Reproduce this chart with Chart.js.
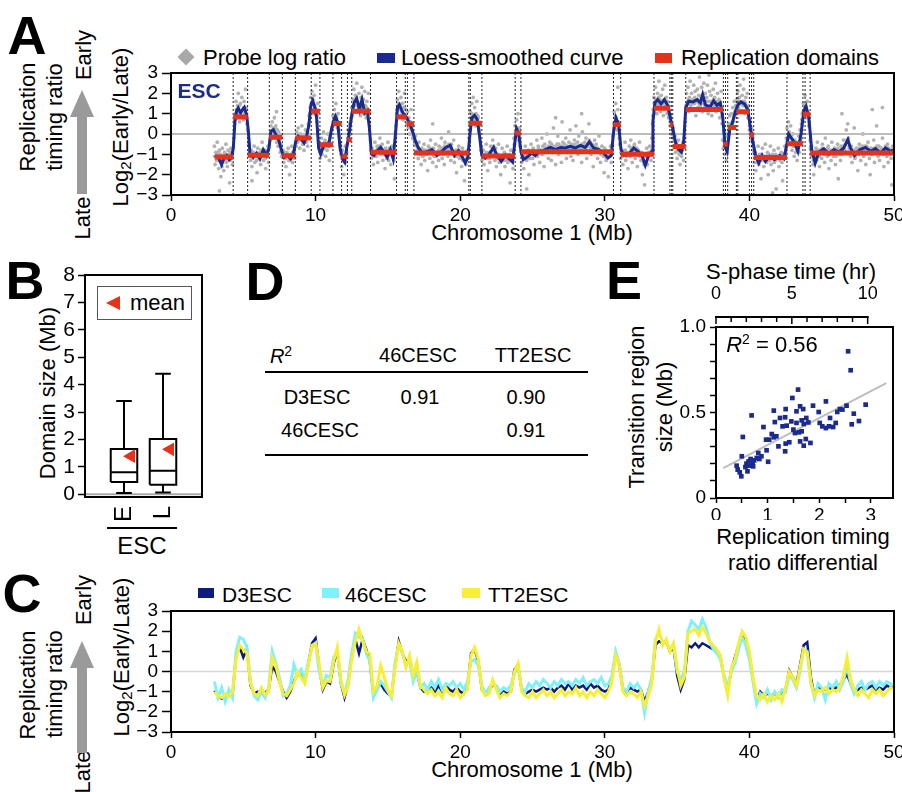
<!DOCTYPE html>
<html><head><meta charset="utf-8">
<script src="https://cdn.jsdelivr.net/npm/chart.js@4.4.1/dist/chart.umd.min.js"></script>
<style>
html,body{margin:0;padding:0;background:#fff;}
body{width:902px;height:792px;overflow:hidden;position:relative;font-family:"Liberation Sans",Arial,sans-serif;color:#000;}
canvas{position:absolute;}
.t{position:absolute;white-space:nowrap;line-height:1;transform:translate(-50%,-50%);}
.l{position:absolute;white-space:nowrap;line-height:1;transform:translateY(-50%);}
.r{position:absolute;white-space:nowrap;line-height:1;transform:translate(-50%,-50%) rotate(-90deg);}
.big{font-weight:bold;font-size:54px;}
.f22{font-size:22px;}
.f21{font-size:21px;}
.f20{font-size:20px;}
.hr{position:absolute;background:#000;}
</style>
</head><body>
<!-- Panel letters -->
<div class="t big" style="left:27px;top:35px">A</div>
<div class="t big" style="left:25px;top:280px">B</div>
<div class="t big" style="left:22px;top:593px">C</div>
<div class="t big" style="left:265px;top:281px">D</div>
<div class="t big" style="left:624px;top:280px">E</div>

<!-- Panel A annotations -->
<div class="r f22" style="left:28px;top:117px">Replication</div>
<div class="r f22" style="left:55px;top:117px">timing ratio</div>
<div class="r f22" style="left:84px;top:55px">Early</div>
<div class="r f22" style="left:83px;top:218px">Late</div>
<div style="position:absolute;left:70px;top:90px;width:0;height:0;border-left:12.5px solid transparent;border-right:12.5px solid transparent;border-bottom:27px solid #9a9a9a"></div>
<div style="position:absolute;left:77px;top:116px;width:10px;height:78px;background:#9a9a9a"></div>
<div class="r f22" style="left:121px;top:127px">Log<sub style="font-size:15px;vertical-align:-3px">2</sub>(Early/Late)</div>
<div class="t f22" style="left:532px;top:233px">Chromosome 1 (Mb)</div>
<div class="t" style="left:199px;top:90px;font-size:21px;font-weight:bold;color:#1b2a8f;z-index:3">ESC</div>
<!-- Panel A legend -->
<div style="position:absolute;left:180px;top:51px;width:12px;height:12px;background:#a8a8a8;transform:rotate(45deg)"></div>
<div class="l f22" style="left:203px;top:58px">Probe log ratio</div>
<div style="position:absolute;left:377px;top:53px;width:18px;height:10px;background:#1b2a8f"></div>
<div class="l f22" style="left:401px;top:58px">Loess-smoothed curve</div>
<div style="position:absolute;left:655px;top:53px;width:17px;height:10px;background:#e5321b"></div>
<div class="l f22" style="left:681px;top:58px">Replication domains</div>

<!-- Panel B annotations -->
<div class="r f22" style="left:48px;top:393px">Domain size (Mb)</div>
<div style="position:absolute;left:97px;top:286px;width:95px;height:34px;border:1px solid #555;box-sizing:border-box;background:#fff;z-index:2"></div>
<div style="position:absolute;left:106px;top:296px;width:0;height:0;border-top:7px solid transparent;border-bottom:7px solid transparent;border-right:14px solid #e5321b;z-index:3"></div>
<div class="l f22" style="left:130px;top:303px;z-index:3">mean</div>
<div class="hr" style="left:107px;top:527px;width:70px;height:2px"></div>
<div class="t" style="left:142px;top:546px;font-size:24px">ESC</div>

<!-- Panel D table -->
<div class="t f20" style="left:281px;top:355px"><i>R</i><sup style="font-size:14px;vertical-align:7px">2</sup></div>
<div class="t f20" style="left:418px;top:355px">46CESC</div>
<div class="t f20" style="left:533px;top:355px">TT2ESC</div>
<div class="hr" style="left:265px;top:371px;width:323px;height:2px"></div>
<div class="t f20" style="left:317px;top:397px">D3ESC</div>
<div class="t f20" style="left:420px;top:397px">0.91</div>
<div class="t f20" style="left:526px;top:397px">0.90</div>
<div class="t f20" style="left:320px;top:430px">46CESC</div>
<div class="t f20" style="left:526px;top:430px">0.91</div>
<div class="hr" style="left:265px;top:454px;width:323px;height:2px"></div>

<!-- Panel E annotations -->
<div class="t f22" style="left:791px;top:272px">S-phase time (hr)</div>
<div class="t f22" style="left:772px;top:344px;z-index:3"><i>R</i><sup style="font-size:14px;vertical-align:8px">2</sup> = 0.56</div>
<div class="r f22" style="left:637px;top:407px">Transition region</div>
<div class="r f22" style="left:665px;top:407px">size (Mb)</div>
<div class="t f22" style="left:803px;top:537px">Replication timing</div>
<div class="t f22" style="left:803px;top:563px">ratio differential</div>

<!-- Panel C annotations -->
<div class="r f22" style="left:28px;top:685px">Replication</div>
<div class="r f22" style="left:55px;top:684px">timing ratio</div>
<div class="r f22" style="left:84px;top:600px">Early</div>
<div class="r f22" style="left:83px;top:772px">Late</div>
<div style="position:absolute;left:70px;top:641px;width:0;height:0;border-left:12.5px solid transparent;border-right:12.5px solid transparent;border-bottom:27px solid #9a9a9a"></div>
<div style="position:absolute;left:77px;top:667px;width:10px;height:86px;background:#9a9a9a"></div>
<div class="r f22" style="left:122px;top:657px">Log<sub style="font-size:15px;vertical-align:-3px">2</sub>(Early/Late)</div>
<div class="t f22" style="left:532px;top:770px">Chromosome 1 (Mb)</div>
<div style="position:absolute;left:198px;top:588px;width:16px;height:10px;background:#0d1a80"></div>
<div class="l f21" style="left:222px;top:594px">D3ESC</div>
<div style="position:absolute;left:322px;top:588px;width:17px;height:10px;background:#80f0ff"></div>
<div class="l f21" style="left:345px;top:594px">46CESC</div>
<div style="position:absolute;left:462px;top:588px;width:18px;height:10px;background:#f8ef33"></div>
<div class="l f21" style="left:488px;top:594px">TT2ESC</div>

<canvas id="cA" width="802" height="190" style="left:100px;top:60px"></canvas>
<canvas id="cB" width="190" height="262" style="left:20px;top:262px"></canvas>
<canvas id="cE" width="226" height="240" style="left:676px;top:280px"></canvas>
<canvas id="cC" width="802" height="194" style="left:100px;top:598px"></canvas>

<script>
// ================= DATA =================
// Panel A: replication domains (start Mb, end Mb, log2 ratio)
const domStart = [3.05,4.3,5.3,6.8,7.7,8.6,9.7,10.3,11.2,11.8,12.2,12.5,13.8,15.6,16.3,16.8,20.6,21.5,23.8,24.2,30.6,31.1,33.4,34.5,34.7,35.6,38.2,38.5,39.1,40.0,40.3,42.6,43.7,44.2];
const domEnd   = [4.3,5.3,6.8,7.7,8.6,9.7,10.3,11.2,11.8,12.2,12.5,13.8,15.6,16.3,16.8,20.6,21.5,23.8,24.2,30.6,31.1,33.4,34.5,34.7,35.6,38.2,38.5,39.1,40.0,40.3,42.6,43.7,44.2,50.0];
const domLevel = [-1.13,0.84,-1.05,-0.16,-1.07,-0.2,1.12,-0.53,0.52,-1.1,-0.28,1.12,-0.9,0.84,0.51,-0.94,0.53,-1.08,0.05,-0.87,0.45,-1.0,1.27,0.45,-0.62,1.2,-0.5,0.32,1.1,-0.05,-1.15,-0.48,0.97,-0.93];
// Panel A: domain boundaries (dotted lines, Mb)
const boundaries = [4.3,5.3,6.8,7.7,8.6,9.7,10.3,11.2,11.8,12.2,12.5,13.8,15.6,16.2,16.35,16.8,20.6,20.7,21.5,23.8,24.2,30.6,31.1,33.4,34.5,34.6,34.7,35.6,38.2,38.35,38.5,39.1,39.2,40.0,40.15,40.3,42.6,43.7,43.85,44.2];
// Panel A: loess-smoothed curve [Mb, log2 ratio]
const loess = [[3.04,-1.05],[3.27,-1.15],[3.5,-1.51],[3.66,-1.18],[3.85,-1.05],[4.03,-1.26],[4.19,-1.15],[4.31,-0.69],[4.42,0.62],[4.54,1.15],[4.65,1.28],[4.81,1.03],[4.95,1.2],[5.07,1.31],[5.23,0.95],[5.35,0.13],[5.46,-0.94],[5.69,-1.15],[5.92,-0.94],[6.15,-1.22],[6.38,-0.77],[6.61,-1.05],[6.78,-0.69],[6.91,0.13],[7.08,0.21],[7.26,-0.03],[7.44,-0.28],[7.63,-0.77],[7.81,-1.15],[8.04,-1.05],[8.27,-1.22],[8.46,-0.99],[8.62,-0.39],[8.8,-0.11],[8.99,-0.23],[9.2,-0.44],[9.38,-0.11],[9.54,0.46],[9.68,1.44],[9.8,1.64],[9.96,1.28],[10.07,0.79],[10.21,-0.69],[10.35,-0.99],[10.54,-0.61],[10.72,-0.49],[10.9,-0.56],[11.07,0.13],[11.23,0.62],[11.37,0.87],[11.53,0.59],[11.69,-0.69],[11.87,-1.22],[12.01,-1.38],[12.15,-0.69],[12.31,-0.03],[12.5,0.95],[12.66,1.53],[12.84,1.74],[13.03,1.2],[13.21,1.69],[13.4,1.03],[13.58,1.15],[13.72,0.3],[13.86,-0.99],[14.04,-1.05],[14.27,-0.82],[14.5,-0.66],[14.73,-0.89],[14.96,-1.15],[15.17,-0.77],[15.36,-1.22],[15.52,-0.03],[15.66,1.28],[15.8,1.44],[15.96,1.15],[16.12,0.95],[16.3,0.79],[16.49,0.54],[16.67,0.21],[16.88,-0.28],[17.11,-0.69],[17.41,-0.94],[17.8,-0.85],[18.04,-0.77],[18.39,-1.05],[18.73,-0.85],[19.01,-0.66],[19.31,-0.56],[19.61,-1.05],[19.89,-0.82],[20.16,-1.15],[20.35,-1.43],[20.53,-1.15],[20.67,-0.03],[20.81,0.79],[20.99,0.92],[21.18,0.71],[21.34,-0.11],[21.5,-1.05],[21.73,-1.18],[22.01,-0.99],[22.31,-0.66],[22.54,-1.05],[22.84,-1.35],[23.12,-1.05],[23.39,-1.22],[23.62,-1.38],[23.76,-0.53],[23.9,0.26],[24.04,0.05],[24.2,-0.85],[24.36,-1.26],[24.62,-1.15],[24.92,-0.94],[25.19,-1.05],[25.54,-0.85],[25.88,-0.77],[26.23,-0.66],[26.58,-0.77],[26.92,-0.66],[27.27,-0.69],[27.61,-0.61],[27.96,-0.69],[28.31,-0.56],[28.65,-0.66],[28.93,-0.39],[29.23,-0.69],[29.58,-0.77],[29.92,-0.94],[30.22,-1.18],[30.45,-1.05],[30.61,0.13],[30.77,0.79],[30.96,0.46],[31.12,-0.77],[31.33,-1.05],[31.65,-0.99],[32.0,-0.69],[32.3,-0.85],[32.57,-1.05],[32.8,-1.54],[33.04,-1.05],[33.27,-0.85],[33.33,0.62],[33.47,1.53],[33.66,1.69],[33.89,1.48],[34.12,1.69],[34.35,1.41],[34.53,0.79],[34.72,0.21],[34.9,-0.44],[35.11,-0.77],[35.3,-0.89],[35.46,-0.36],[35.6,1.28],[35.8,1.61],[36.1,1.58],[36.38,1.69],[36.61,1.53],[36.77,1.94],[36.96,1.44],[37.26,1.31],[37.53,1.64],[37.76,1.41],[37.99,1.53],[38.16,0.79],[38.32,-0.61],[38.46,-0.85],[38.64,0.21],[38.82,0.54],[39.03,1.12],[39.22,1.44],[39.42,1.58],[39.66,1.48],[39.89,1.2],[40.07,0.3],[40.26,-0.44],[40.44,-1.1],[40.65,-1.43],[40.88,-1.05],[41.11,-1.35],[41.41,-1.1],[41.73,-1.26],[42.1,-1.05],[42.38,-1.22],[42.56,-0.61],[42.72,0.0],[42.91,-0.2],[43.12,-0.44],[43.35,-0.85],[43.58,0.05],[43.76,1.12],[43.92,1.36],[44.11,0.79],[44.31,-0.77],[44.55,-1.43],[44.8,-0.89],[45.15,-0.72],[45.49,-0.99],[45.84,-0.77],[46.18,-0.89],[46.53,-0.69],[46.81,-0.28],[46.99,-0.69],[47.27,-1.05],[47.64,-0.77],[48.03,-0.66],[48.38,-0.85],[48.72,-0.72],[49.07,-0.94],[49.41,-0.69],[49.76,-0.85],[50.0,-0.77]];
// Panel A: probe log ratios, outer scatter [Mb, log2 ratio]
const probes = [[3.0,-0.6],[3.05,-1.5],[3.1,-0.9],[3.15,-1.3],[3.2,-0.4],[3.25,-1.0],[3.3,-1.7],[3.35,-0.8],[3.35,-2.8],[3.4,-1.2],[3.45,-2.1],[3.5,-1.4],[3.55,-0.7],[3.6,-1.1],[3.65,-1.8],[3.7,-0.9],[3.75,-1.3],[3.8,-0.5],[3.85,-1.2],[3.9,-1.6],[3.95,-0.8],[4.0,-1.0],[4.05,-2.4],[4.1,-1.3],[4.15,-0.7],[4.2,-1.1],[4.25,-1.5],
[4.35,-0.2],[4.4,0.5],[4.45,1.0],[4.5,1.6],[4.55,0.8],[4.6,1.4],[4.65,2.0],[4.7,1.1],[4.75,0.6],[4.8,1.5],[4.85,0.9],[4.9,1.8],[4.95,1.2],[5.0,0.7],[5.05,1.6],[5.1,1.0],[5.15,2.2],[5.2,1.3],[5.25,0.5],[5.3,0.2],
[5.4,-0.5],[5.5,-1.3],[5.55,-0.8],[5.6,-1.6],[5.6,-2.3],[5.7,-1.0],[5.75,-0.6],[5.8,-1.4],[5.9,-1.1],[5.95,-1.9],[6.0,-0.7],[6.1,-1.2],[6.15,-0.9],[6.2,-1.5],[6.3,-0.4],[6.35,-1.0],[6.4,-1.3],[6.5,-0.8],[6.55,-1.7],[6.6,-1.1],[6.7,-0.6],[6.75,-1.4],
[6.85,-0.3],[6.9,0.4],[6.95,0.0],[7.0,0.6],[7.05,-0.2],[7.1,0.3],[7.15,0.8],[7.2,-0.1],[7.25,0.4],[7.3,-0.4],[7.3,1.1],[7.35,0.2],[7.4,-0.6],[7.45,0.1],[7.5,-0.3],[7.55,-0.9],[7.6,-0.5],[7.65,-1.1],
[7.75,-0.8],[7.8,-1.4],[7.9,-0.9],[7.95,-1.6],[8.0,-1.1],[8.1,-0.7],[8.15,-1.3],[8.2,-2.0],[8.3,-1.0],[8.35,-0.6],[8.4,-1.4],[8.5,-0.9],[8.55,-1.2],
[8.65,-0.6],[8.7,0.1],[8.75,-0.4],[8.8,0.3],[8.85,-0.2],[8.9,-0.7],[8.95,0.0],[9.0,-0.3],[9.05,0.4],[9.1,-0.5],[9.15,-0.1],[9.2,-0.8],[9.25,-0.2],[9.3,0.2],[9.35,-0.4],[9.4,0.1],[9.45,-0.6],[9.5,0.5],[9.55,0.9],
[9.6,1.0],[9.65,1.8],[9.7,1.2],[9.75,2.1],[9.8,1.5],[9.85,1.0],[9.9,1.9],[9.95,1.3],[10.0,2.4],[10.05,1.1],[10.1,0.6],[10.15,1.5],[10.2,0.2],
[10.25,-0.6],[10.3,-1.2],[10.35,-0.8],[10.4,-0.2],[10.45,-1.0],[10.5,-0.5],[10.55,0.1],[10.6,-0.7],[10.65,-0.3],[10.7,-1.1],[10.75,-0.4],[10.8,-0.8],[10.85,0.0],[10.9,-0.6],[10.95,-1.3],[11.0,-0.2],[11.05,-0.5],
[11.15,0.2],[11.2,0.9],[11.25,0.4],[11.3,1.2],[11.35,0.6],[11.4,1.5],[11.45,0.8],[11.5,0.3],[11.55,1.0],[11.6,0.5],[11.65,-0.1],
[11.7,-0.5],[11.75,-1.0],[11.8,-1.6],[11.85,-0.8],[11.9,-1.3],[11.95,-2.0],[12.0,-1.1],[12.05,-0.6],[12.1,-1.4],[12.15,-0.9],
[12.2,-0.5],[12.25,0.2],[12.3,-0.3],[12.35,0.5],[12.4,0.0],[12.45,0.8],
[12.5,1.3],[12.55,0.9],[12.6,1.7],[12.65,2.2],[12.7,1.4],[12.75,1.9],[12.8,1.1],[12.85,2.5],[12.9,1.6],[12.95,1.2],[13.0,2.0],[13.05,1.5],[13.1,0.9],[13.15,1.8],[13.2,2.3],[13.25,1.3],[13.3,1.7],[13.35,1.0],[13.4,2.1],[13.45,1.4],[13.5,0.8],[13.55,1.6],[13.6,1.2],[13.65,2.0],[13.7,0.6],
[13.8,-0.3],[13.85,-1.2],[13.9,-0.7],[14.0,-1.5],[14.05,-0.9],[14.1,-0.4],[14.2,-1.1],[14.25,-0.6],[14.3,-1.4],[14.4,-0.8],[14.45,-0.2],[14.5,-1.0],[14.6,-0.5],[14.65,-1.3],[14.7,-0.9],[14.8,-1.7],[14.85,-0.7],[14.9,-1.1],[15.0,-0.4],[15.05,-1.3],[15.1,-0.8],[15.2,-1.5],[15.25,-1.0],[15.3,-0.6],[15.4,-1.2],[15.45,-2.2],
[15.55,0.4],[15.6,1.0],[15.65,1.7],[15.7,1.2],[15.75,2.1],[15.8,1.4],[15.85,0.9],[15.9,1.8],[15.95,1.1],[16.0,1.5],[16.05,0.7],[16.1,1.3],[16.15,2.0],[16.2,0.9],[16.25,1.2],
[16.3,0.5],[16.35,1.1],[16.4,0.3],[16.45,0.8],[16.5,0.0],[16.55,0.6],[16.6,1.2],[16.65,0.2],[16.7,-0.2],[16.75,0.4],
[16.85,-0.5],[16.9,-0.1],[16.95,-0.9],[17.0,-0.6],[17.1,-1.2],[17.15,-0.4],[17.2,-0.9],[17.3,-1.5],[17.35,-0.7],[17.4,-1.1],[17.5,-0.5],[17.55,-1.3],[17.6,-0.8],[17.7,-1.0],[17.75,-1.8],[17.8,-0.6],[17.9,-1.2],[17.95,-0.3],[18.0,-0.9],[18.1,-1.4],[18.1,0.5],[18.15,-0.7],[18.2,-1.1],[18.3,-0.5],[18.35,-1.6],[18.4,-0.9],[18.5,-1.3],[18.55,-0.6],[18.6,-1.0],[18.7,-0.2],[18.75,-1.2],[18.8,-0.8],[18.9,-1.5],[18.95,-0.4],[19.0,-0.9],[19.1,-0.6],[19.15,-1.1],[19.2,0.1],[19.3,-0.7],[19.35,-1.3],[19.4,-0.5],[19.5,-1.0],[19.55,-0.3],[19.6,-1.4],[19.7,-0.8],[19.75,-1.9],[19.8,-1.1],[19.9,-0.6],[19.95,-1.2],[20.0,-0.9],[20.1,-1.6],[20.15,-0.7],[20.2,-1.3],[20.3,-2.3],[20.35,-1.0],[20.4,-1.5],[20.5,-0.8],[20.55,-1.2],
[20.6,-0.2],[20.65,0.5],[20.7,1.1],[20.75,0.6],[20.8,1.5],[20.85,0.9],[20.9,1.8],[20.95,0.7],[21.0,1.3],[21.05,0.4],[21.1,1.0],[21.15,1.6],[21.2,0.5],[21.25,0.8],[21.3,0.1],[21.35,0.4],
[21.45,-0.6],[21.5,-1.3],[21.6,-0.8],[21.65,-1.5],[21.7,-1.0],[21.8,-0.5],[21.85,-1.2],[21.9,-1.8],[22.0,-0.9],[22.05,-1.4],[22.1,-0.6],[22.2,-1.1],[22.25,-0.3],[22.3,-0.8],[22.4,-1.3],[22.45,-0.7],[22.5,-1.6],[22.6,-1.0],[22.65,-0.5],[22.7,-1.4],[22.8,-2.0],[22.85,-1.1],[22.9,-0.7],[23.0,-1.3],[23.05,-0.9],[23.1,-1.6],[23.2,-1.0],[23.25,-0.6],[23.3,-1.4],[23.4,-1.1],[23.45,-2.4],[23.5,-0.8],[23.6,-1.3],[23.65,-1.7],
[23.75,-0.5],[23.8,0.4],[23.85,-0.1],[23.9,0.7],[23.95,0.2],[24.0,1.0],[24.05,-0.3],[24.1,0.3],[24.15,-0.6],
[24.25,-1.4],[24.3,-0.9],[24.4,-1.7],[24.45,-1.1],[24.5,-0.6],[24.6,-1.3],[24.6,-2.7],[24.7,-0.8],[24.75,-2.0],[24.8,-1.0],[24.9,-0.5],[25.0,-1.2],[25.05,-0.7],[25.1,-1.5],[25.2,-0.9],[25.3,-0.3],[25.35,-1.1],[25.4,-0.6],[25.5,-1.4],[25.6,-0.8],[25.65,-0.2],[25.7,-1.0],[25.8,-1.6],[25.85,-0.5],[25.9,-0.9],[26.0,0.0],[26.1,-1.2],[26.15,-0.7],[26.2,-0.4],[26.3,-1.3],[26.4,-0.6],[26.45,0.3],[26.5,-0.9],[26.6,-1.5],[26.6,0.8],[26.7,-0.5],[26.75,-0.1],[26.8,-1.0],[26.9,-0.7],[27.0,-1.4],[27.05,0.6],[27.1,-0.4],[27.2,-0.9],[27.3,-0.2],[27.35,-1.2],[27.4,-0.6],[27.5,-0.8],[27.6,0.2],[27.65,-1.1],[27.7,-0.5],[27.8,-1.3],[27.9,-0.3],[27.95,-0.8],[28.0,0.4],[28.1,-0.6],[28.15,-1.0],[28.2,-0.1],[28.3,-0.7],[28.4,-1.4],[28.4,1.0],[28.45,0.1],[28.5,-0.5],[28.6,-0.9],[28.7,-0.2],[28.75,-1.2],[28.8,-0.6],[28.9,0.5],[29.0,-0.4],[29.05,-1.0],[29.1,-0.7],[29.2,-1.6],[29.3,-0.3],[29.35,-0.9],[29.4,-0.5],[29.5,-1.2],[29.6,-0.1],[29.65,-0.8],[29.7,-1.4],[29.8,-0.6],[29.9,-1.0],[29.95,-1.9],[30.0,-0.7],[30.1,-1.3],[30.2,-0.9],[30.25,-2.1],[30.3,-1.1],[30.4,-0.6],[30.45,-1.4],[30.5,-0.8],
[30.55,-0.1],[30.6,0.5],[30.65,1.1],[30.7,0.4],[30.75,1.5],[30.8,0.8],[30.85,0.2],[30.9,1.2],[30.9,2.3],[30.95,0.6],[31.0,-0.2],
[31.05,-0.5],[31.1,-1.2],[31.2,-0.8],[31.25,-1.5],[31.3,-1.0],[31.4,-0.4],[31.45,-1.3],[31.5,-0.9],[31.6,-1.7],[31.7,-0.6],[31.75,-1.1],[31.8,-0.3],[31.9,-1.4],[32.0,-0.8],[32.05,-0.5],[32.1,-1.2],[32.2,-0.7],[32.25,-1.6],[32.3,-1.0],[32.4,-0.4],[32.5,-1.3],[32.55,-0.9],[32.6,-2.0],[32.7,-1.4],[32.75,-2.5],[32.8,-1.1],[32.9,-0.7],[32.95,-1.5],[33.0,-1.0],[33.1,-0.6],[33.2,-1.3],[33.25,-0.2],
[33.3,0.5],[33.35,1.2],[33.4,1.8],[33.45,1.3],[33.5,2.3],[33.55,1.6],[33.6,1.0],[33.65,2.0],[33.7,1.4],[33.75,2.6],[33.8,1.7],[33.85,1.1],[33.9,1.9],[33.95,1.5],[34.0,2.2],[34.05,0.9],[34.1,1.6],[34.15,2.4],[34.2,1.3],[34.25,1.8],[34.3,1.0],[34.35,1.6],[34.4,0.8],
[34.45,1.1],[34.5,0.4],[34.55,0.9],[34.6,0.0],[34.65,0.5],
[34.7,-0.2],[34.75,0.3],[34.8,-0.6],[34.85,-0.1],[34.9,-0.9],[34.95,-0.4],[35.0,-1.2],[35.05,-0.7],[35.1,-0.3],[35.15,-1.0],[35.2,-1.5],[35.25,-0.6],[35.3,-1.1],[35.35,-0.8],[35.4,-0.4],[35.45,-1.3],[35.5,-0.2],
[35.55,0.6],[35.6,1.3],[35.65,2.0],[35.7,1.5],[35.75,2.3],[35.8,1.1],[35.85,1.8],[35.9,2.6],[35.95,1.4],[36.0,2.0],[36.05,1.2],[36.1,1.7],[36.15,2.4],[36.2,1.5],[36.25,2.1],[36.3,0.9],[36.35,1.6],[36.4,2.2],[36.45,1.3],[36.5,1.9],[36.55,2.8],[36.6,1.4],[36.65,1.8],[36.7,2.3],[36.75,1.1],[36.8,1.7],[36.85,2.5],[36.9,1.5],[36.95,2.0],[37.0,1.2],[37.05,1.8],[37.1,2.4],[37.15,1.0],[37.2,1.6],[37.2,2.9],[37.25,2.1],[37.3,1.3],[37.35,1.9],[37.4,0.9],[37.45,1.5],[37.5,2.2],[37.55,1.4],[37.6,1.8],[37.65,2.5],[37.7,1.1],[37.75,1.6],[37.8,2.0],[37.85,1.2],[37.9,1.7],[37.95,0.8],[38.0,1.4],[38.05,2.1],
[38.1,0.5],[38.15,-0.3],[38.2,-0.7],[38.25,0.1],[38.3,-1.0],[38.35,-0.4],[38.4,-1.3],[38.45,-0.6],
[38.5,-0.1],[38.55,0.5],[38.6,0.1],[38.65,0.9],[38.7,0.3],[38.75,1.0],[38.8,0.4],[38.85,1.3],[38.9,0.6],[38.95,1.6],[39.0,0.9],[39.05,1.4],
[39.1,1.0],[39.15,1.7],[39.2,2.1],[39.25,1.3],[39.3,1.8],[39.35,2.4],[39.4,1.5],[39.45,1.1],[39.5,1.9],[39.55,1.4],[39.6,2.2],[39.6,2.7],[39.65,1.6],[39.7,1.0],[39.75,1.8],[39.8,1.3],[39.85,2.0],[39.9,0.8],[39.95,1.4],
[40.0,0.2],[40.05,0.7],[40.1,-0.3],[40.15,0.3],[40.2,-0.6],[40.25,0.0],
[40.3,-0.8],[40.35,-1.4],[40.4,-0.9],[40.45,-1.8],[40.5,-1.2],[40.6,-0.6],[40.65,-1.5],[40.7,-1.0],[40.8,-2.2],[40.85,-1.3],[40.9,-0.7],[41.0,-1.6],[41.05,-1.1],[41.1,-0.5],[41.2,-1.4],[41.25,-0.9],[41.3,-2.0],[41.4,-1.2],[41.45,-0.6],[41.5,-1.5],[41.6,-1.0],[41.6,-2.9],[41.65,-1.8],[41.7,-0.8],[41.8,-1.3],[41.85,-2.7],[41.9,-1.1],[42.0,-0.7],[42.05,-1.6],[42.1,-1.2],[42.2,-0.9],[42.25,-1.4],[42.3,-2.3],[42.4,-1.0],[42.45,-0.6],
[42.5,-0.9],[42.55,-0.2],[42.6,0.3],[42.65,-0.4],[42.7,0.6],[42.75,0.1],[42.8,-0.5],[42.85,0.4],[42.9,-0.2],[42.95,-0.8],[43.0,0.0],[43.05,-0.6],[43.1,-1.1],[43.15,-0.3],[43.2,-0.9],[43.25,-0.4],[43.3,-1.3],[43.35,-0.7],[43.4,-0.1],[43.45,-0.9],[43.5,0.2],[43.55,-0.3],
[43.6,0.5],[43.65,1.0],[43.7,0.6],[43.75,1.5],[43.8,1.1],[43.85,1.9],[43.9,1.3],[43.95,0.8],[44.0,1.6],[44.05,1.0],[44.1,0.4],[44.15,0.9],
[44.2,-0.3],[44.25,-1.0],[44.3,-0.6],[44.4,-1.5],[44.45,-2.0],[44.5,-1.1],[44.6,-0.7],[44.65,-1.3],[44.7,-0.4],[44.8,-1.0],[44.85,-1.6],[44.9,-0.8],[45.0,-1.2],[45.05,-0.5],[45.1,-0.9],[45.2,-1.4],[45.25,-0.2],[45.3,-0.8],[45.4,-1.1],[45.45,-0.6],[45.5,-1.7],[45.6,-0.9],[45.65,-1.3],[45.7,-0.4],[45.8,-1.0],[45.9,-0.7],[45.95,-1.5],[46.0,-1.1],[46.1,-0.5],[46.15,-2.2],[46.2,-0.9],[46.3,-1.3],[46.35,-0.6],[46.4,-1.0],[46.4,1.0],[46.5,-0.3],[46.6,-0.8],[46.7,0.2],[46.75,-0.4],[46.8,0.5],[46.85,-0.2],[46.9,-0.7],[47.0,-1.1],[47.05,-0.6],[47.1,-1.4],[47.2,-0.9],[47.25,0.3],[47.3,-1.2],[47.4,-0.7],[47.5,-1.8],[47.55,-1.0],[47.6,-0.5],[47.7,-1.3],[47.8,-0.8],[47.85,0.0],[47.9,-1.1],[48.0,-0.6],[48.05,-1.5],[48.1,-0.9],[48.2,-0.4],[48.3,-1.2],[48.35,-2.0],[48.4,-0.7],[48.5,-1.0],[48.5,1.2],[48.6,-0.3],[48.65,-1.4],[48.7,-0.8],[48.8,0.4],[48.9,-1.1],[48.95,-0.6],[49.0,-1.3],[49.1,-0.9],[49.2,-0.2],[49.2,1.3],[49.25,-1.0],[49.3,-1.6],[49.4,-0.7],[49.5,-1.1],[49.55,-0.5],[49.6,-1.4],[49.7,-0.8],[49.8,-1.2],[49.85,-2.5],[49.9,-0.6],[50.0,-1.0]];
// Panel A: probe log ratios, dense core near the curve [Mb, log2 ratio]
const probesCore = [[3.02,-1.1],[3.12,-1.2],[3.22,-0.9],[3.32,-1.3],[3.42,-1.0],[3.52,-1.6],[3.62,-1.2],[3.72,-1.0],[3.82,-1.4],[3.92,-1.1],[4.02,-1.3],[4.12,-0.9],[4.22,-1.2],
[4.42,0.7],[4.52,1.2],[4.62,1.0],[4.72,1.4],[4.82,1.1],[4.92,0.9],[5.02,1.3],[5.12,1.1],[5.22,0.8],
[5.42,-0.9],[5.52,-1.1],[5.62,-1.2],[5.72,-0.9],[5.82,-1.0],[5.92,-1.3],[6.02,-1.0],[6.12,-1.2],[6.22,-0.8],[6.32,-1.1],[6.42,-0.9],[6.52,-1.2],[6.62,-1.0],[6.72,-0.8],
[6.92,0.1],[7.02,0.2],[7.12,0.0],[7.22,0.3],[7.32,-0.2],[7.42,-0.3],[7.52,-0.6],[7.62,-0.8],
[7.72,-1.1],[7.82,-1.0],[7.92,-1.2],[8.02,-0.9],[8.12,-1.1],[8.22,-1.3],[8.32,-1.2],[8.42,-0.9],[8.52,-1.0],
[8.62,-0.3],[8.72,-0.2],[8.82,-0.1],[8.92,-0.3],[9.02,-0.1],[9.12,-0.3],[9.22,-0.4],[9.32,-0.1],[9.42,0.0],[9.52,0.4],
[9.62,1.3],[9.72,1.5],[9.82,1.7],[9.92,1.4],[10.02,1.2],[10.12,0.9],
[10.22,-0.4],[10.32,-0.9],[10.42,-0.7],[10.52,-0.6],[10.62,-0.4],[10.72,-0.5],[10.82,-0.6],[10.92,-0.5],[11.02,-0.1],
[11.12,0.3],[11.22,0.6],[11.32,0.8],[11.42,0.9],[11.52,0.6],[11.62,0.2],
[11.72,-0.8],[11.82,-1.2],[11.92,-1.1],[12.02,-1.4],[12.12,-1.0],
[12.22,-0.2],[12.32,0.1],[12.42,0.6],
[12.52,1.0],[12.62,1.4],[12.72,1.6],[12.82,1.8],[12.92,1.4],[13.02,1.3],[13.12,1.5],[13.22,1.7],[13.32,1.2],[13.42,1.0],[13.52,1.3],[13.62,1.1],[13.72,1.0],
[13.82,-0.8],[13.92,-1.0],[14.02,-1.1],[14.12,-0.9],[14.22,-0.8],[14.32,-0.7],[14.42,-0.6],[14.52,-0.7],[14.62,-0.9],[14.72,-1.0],[14.82,-0.9],[14.92,-1.2],[15.02,-1.0],[15.12,-0.7],[15.22,-0.9],[15.32,-1.1],[15.42,-1.3],
[15.52,0.1],[15.62,1.2],[15.72,1.5],[15.82,1.3],[15.92,1.2],[16.02,1.0],[16.12,0.9],[16.22,0.8],
[16.32,0.8],[16.42,0.6],[16.52,0.4],[16.62,0.3],[16.72,0.0],
[16.82,-0.3],[16.92,-0.5],[17.02,-0.8],[17.12,-0.7],[17.22,-1.0],[17.32,-0.9],[17.42,-1.1],[17.52,-0.8],[17.62,-1.0],[17.72,-0.9],[17.82,-0.8],[17.92,-0.7],[18.02,-0.8],[18.12,-1.0],[18.22,-0.9],[18.32,-1.1],[18.42,-1.0],[18.52,-0.8],[18.62,-0.9],[18.72,-0.7],[18.82,-1.0],[18.92,-0.6],[19.02,-0.7],[19.12,-0.8],[19.22,-0.5],[19.32,-0.6],[19.42,-0.8],[19.52,-0.9],[19.62,-1.1],[19.72,-0.9],[19.82,-0.8],[19.92,-1.0],[20.02,-1.1],[20.12,-1.2],[20.22,-1.0],[20.32,-1.3],[20.42,-1.2],[20.52,-1.0],
[20.62,0.2],[20.72,0.8],[20.82,1.0],[20.92,0.9],[21.02,0.8],[21.12,0.7],[21.22,0.9],[21.32,0.2],
[21.42,-0.8],[21.52,-1.0],[21.62,-1.2],[21.72,-1.1],[21.82,-0.9],[21.92,-1.0],[22.02,-1.2],[22.12,-0.9],[22.22,-0.7],[22.32,-0.6],[22.42,-0.9],[22.52,-1.1],[22.62,-1.2],[22.72,-1.1],[22.82,-1.3],[22.92,-1.2],[23.02,-1.0],[23.12,-1.1],[23.22,-1.3],[23.32,-1.2],[23.42,-1.0],[23.52,-1.2],[23.62,-1.1],
[23.72,-0.2],[23.82,0.1],[23.92,0.3],[24.02,0.0],[24.12,-0.3],
[24.22,-0.9],[24.32,-1.1],[24.42,-1.2],[24.52,-1.0],[24.62,-0.9],[24.72,-1.1],[24.82,-1.2],[24.92,-0.9],[25.02,-0.8],[25.12,-1.0],[25.22,-1.1],[25.32,-0.9],[25.42,-0.7],[25.52,-0.9],[25.62,-1.0],[25.72,-0.6],[25.82,-0.8],[25.92,-0.7],[26.02,-0.9],[26.12,-0.6],[26.22,-0.8],[26.32,-0.5],[26.42,-0.9],[26.52,-0.7],[26.62,-0.6],[26.72,-0.8],[26.82,-0.5],[26.92,-0.9],[27.02,-0.6],[27.12,-0.8],[27.22,-0.5],[27.32,-0.7],[27.42,-0.9],[27.52,-0.4],[27.62,-0.7],[27.72,-0.8],[27.82,-0.6],[27.92,-0.5],[28.02,-0.8],[28.12,-0.4],[28.22,-0.6],[28.32,-0.9],[28.42,-0.5],[28.52,-0.7],[28.62,-0.4],[28.72,-0.8],[28.82,-0.6],[28.92,-0.3],[29.02,-0.7],[29.12,-0.5],[29.22,-0.8],[29.32,-0.6],[29.42,-0.9],[29.52,-0.7],[29.62,-0.8],[29.72,-1.0],[29.82,-0.9],[29.92,-1.1],[30.02,-1.0],[30.12,-1.2],[30.22,-1.1],[30.32,-0.9],[30.42,-1.0],[30.52,-0.5],
[30.62,0.3],[30.72,0.9],[30.82,0.6],[30.92,0.5],[31.02,-0.5],
[31.12,-0.9],[31.22,-1.1],[31.32,-1.0],[31.42,-0.8],[31.52,-1.1],[31.62,-1.0],[31.72,-0.9],[31.82,-0.7],[31.92,-0.8],[32.02,-0.6],[32.12,-0.9],[32.22,-1.0],[32.32,-0.8],[32.42,-1.1],[32.52,-1.0],[32.62,-1.3],[32.72,-1.5],[32.82,-1.4],[32.92,-1.1],[33.02,-0.9],[33.12,-1.0],[33.22,-0.8],
[33.32,0.9],[33.42,1.5],[33.52,1.7],[33.62,1.5],[33.72,1.8],[33.82,1.4],[33.92,1.6],[34.02,1.5],[34.12,1.7],[34.22,1.4],[34.32,1.3],[34.42,1.1],
[34.52,0.6],[34.62,0.4],[34.72,0.1],[34.82,-0.3],[34.92,-0.6],[35.02,-0.8],[35.12,-0.6],[35.22,-0.9],[35.32,-0.7],[35.42,-0.5],[35.52,0.2],
[35.62,1.4],[35.72,1.6],[35.82,1.7],[35.92,1.5],[36.02,1.6],[36.12,1.5],[36.22,1.8],[36.32,1.6],[36.42,1.7],[36.52,1.5],[36.62,1.6],[36.72,1.9],[36.82,1.5],[36.92,1.4],[37.02,1.6],[37.12,1.3],[37.22,1.4],[37.32,1.6],[37.42,1.5],[37.52,1.7],[37.62,1.4],[37.72,1.5],[37.82,1.3],[37.92,1.6],[38.02,1.2],
[38.12,0.9],[38.22,-0.3],[38.32,-0.7],[38.42,-0.9],
[38.52,0.0],[38.62,0.3],[38.72,0.5],[38.82,0.6],[38.92,0.8],[39.02,1.1],
[39.12,1.3],[39.22,1.5],[39.32,1.6],[39.42,1.5],[39.52,1.6],[39.62,1.4],[39.72,1.5],[39.82,1.3],[39.92,1.1],
[40.02,0.4],[40.12,0.0],[40.22,-0.4],
[40.32,-0.9],[40.42,-1.2],[40.52,-1.4],[40.62,-1.2],[40.72,-1.3],[40.82,-1.0],[40.92,-1.2],[41.02,-1.3],[41.12,-1.1],[41.22,-1.2],[41.32,-1.0],[41.42,-1.3],[41.52,-1.1],[41.62,-1.2],[41.72,-1.4],[41.82,-1.0],[41.92,-1.2],[42.02,-1.1],[42.12,-1.3],[42.22,-1.0],[42.32,-1.2],[42.42,-1.1],
[42.52,-0.6],[42.62,-0.3],[42.72,-0.1],[42.82,-0.2],[42.92,-0.4],[43.02,-0.3],[43.12,-0.5],[43.22,-0.6],[43.32,-0.8],[43.42,-0.5],[43.52,-0.1],
[43.62,0.7],[43.72,1.1],[43.82,1.3],[43.92,1.2],[44.02,1.1],[44.12,0.6],
[44.22,-0.7],[44.32,-1.1],[44.42,-1.3],[44.52,-1.0],[44.62,-0.9],[44.72,-0.8],[44.82,-1.1],[44.92,-0.9],[45.02,-0.7],[45.12,-0.8],[45.22,-1.0],[45.32,-0.9],[45.42,-0.7],[45.52,-1.0],[45.62,-0.8],[45.72,-0.9],[45.82,-1.1],[45.92,-0.8],[46.02,-0.9],[46.12,-0.7],[46.22,-1.0],[46.32,-0.8],[46.42,-0.7],[46.52,-0.6],[46.62,-0.5],[46.72,-0.3],[46.82,-0.4],[46.92,-0.6],[47.02,-0.9],[47.12,-1.0],[47.22,-0.8],[47.32,-1.1],[47.42,-0.9],[47.52,-0.8],[47.62,-0.7],[47.72,-0.9],[47.82,-0.6],[47.92,-0.8],[48.02,-0.7],[48.12,-0.6],[48.22,-0.9],[48.32,-0.8],[48.42,-1.0],[48.52,-0.8],[48.62,-0.7],[48.72,-0.9],[48.82,-0.6],[48.92,-0.8],[49.02,-1.0],[49.12,-0.7],[49.22,-0.9],[49.32,-0.8],[49.42,-0.6],[49.52,-0.9],[49.62,-0.7],[49.72,-1.0],[49.82,-0.8],[49.92,-0.9]];

// Panel B: domain size box plots (Mb)
const boxGroups = ['E','L'];
const boxPos    = [1, 2];
const boxMin    = [0.05, 0.06];
const boxQ1     = [0.45, 0.35];
const boxMedian = [0.80, 0.86];
const boxQ3     = [1.65, 2.02];
const boxMax    = [3.40, 4.40];
const boxMean   = [1.39, 1.64];

// Panel E: transition region size vs replication timing ratio differential
const diffX = [2.56,2.61,1.59,1.48,1.12,0.69,1.35,1.69,2.13,1.88,1.34,1.56,1.63,1.99,2.35,2.45,2.53,2.90,2.67,2.63,2.77,2.21,2.19,2.01,2.06,2.13,2.27,1.24,1.14,1.46,1.56,1.66,1.75,1.70,1.79,1.37,0.92,1.50,1.61,1.53,1.08,1.12,0.97,1.03,1.17,1.21,0.98,1.35,1.42,1.34,1.63,1.70,1.83,1.74,1.66,1.01,0.52,0.50,0.40,0.42,0.46,0.49,0.59,0.63,0.67,0.71,0.74,0.79,0.84,0.88,0.61,0.72,0.57,0.65,0.82,1.29,2.32,2.40];
const sizeY = [0.858,0.747,0.634,0.585,0.511,0.483,0.520,0.520,0.565,0.540,0.472,0.507,0.536,0.503,0.503,0.517,0.540,0.546,0.493,0.431,0.450,0.468,0.419,0.439,0.419,0.409,0.415,0.468,0.444,0.448,0.439,0.454,0.468,0.433,0.442,0.423,0.415,0.400,0.384,0.380,0.374,0.355,0.341,0.341,0.361,0.302,0.279,0.318,0.326,0.273,0.331,0.306,0.322,0.345,0.390,0.212,0.357,0.244,0.189,0.166,0.150,0.127,0.201,0.214,0.228,0.205,0.220,0.234,0.228,0.244,0.156,0.185,0.181,0.189,0.263,0.419,0.439,0.520];
const fitX = [0.14, 3.30];
const fitY = [0.175, 0.672];

// Panel C: three ESC lines, sampled positions (Mb)
const cPos = [3,3.25,3.5,3.75,4,4.25,4.5,4.75,5,5.25,5.5,5.75,6,6.25,6.5,6.75,7,7.25,7.5,7.75,8,8.25,8.5,8.75,9,9.25,9.5,9.75,10,10.25,10.5,10.75,11,11.25,11.5,11.75,12,12.25,12.5,12.75,13,13.25,13.5,13.75,14,14.25,14.5,14.75,15,15.25,15.5,15.75,16,16.25,16.5,16.75,17,17.25,17.5,17.75,18,18.25,18.5,18.75,19,19.25,19.5,19.75,20,20.25,20.5,20.75,21,21.25,21.5,21.75,22,22.25,22.5,22.75,23,23.25,23.5,23.75,24,24.25,24.5,24.75,25,25.25,25.5,25.75,26,26.25,26.5,26.75,27,27.25,27.5,27.75,28,28.25,28.5,28.75,29,29.25,29.5,29.75,30,30.25,30.5,30.75,31,31.25,31.5,31.75,32,32.25,32.5,32.75,33,33.25,33.5,33.75,34,34.25,34.5,34.75,35,35.25,35.5,35.75,36,36.25,36.5,36.75,37,37.25,37.5,37.75,38,38.25,38.5,38.75,39,39.25,39.5,39.75,40,40.25,40.5,40.75,41,41.25,41.5,41.75,42,42.25,42.5,42.75,43,43.25,43.5,43.75,44,44.25,44.5,44.75,45,45.25,45.5,45.75,46,46.25,46.5,46.75,47,47.25,47.5,47.75,48,48.25,48.5,48.75,49,49.25,49.5,49.75,50];
const d3esc = [-0.95,-1.2,-1.35,-1.2, -1.1,-1.2,0.8,1.2, 0.7,1.1,-0.7,-1.1, -1.0,-1.1,-1.05,-0.9, 0.25,0.0,-0.5,-1.0, -1.3,-1.0,-0.5,-0.1, -0.2,-0.5,0.4,1.4, 1.65,0.2,-0.9,-0.5, -0.6,0.4,1.0,-0.6, -1.3,-0.6,0.8,1.6, 0.9,1.6,1.1,0.5, -1.15,-0.8,-0.6,-0.9, -1.1,-1.2,0.3,1.5, 0.9,0.5,0.6,-0.3, 0.0,-0.8,-1.0,-0.9, -0.8,-1.0,-0.7,-1.0, -0.7,-0.9,-1.0,-0.8, -1.0,-1.1,-0.8,0.9, 1.1,0.5,-0.9,-1.1, -1.0,-0.6,-0.8,-1.2, -1.0,-1.1,-1.0,0.1, 0.3,-0.9,-1.1,-1.0, -0.9,-1.0,-0.9,-0.8, -0.9,-0.8,-1.0,-0.8, -0.7,-0.9,-0.6,-0.9, -0.7,-0.8,-0.7,-0.9, -0.6,-0.8,-0.7,-0.9, -1.0,-0.9,-0.3,0.9, 0.3,-0.9,-1.1,-0.8, -0.9,-1.0,-0.9,-1.5, -1.0,-0.4,1.3,1.5, 1.4,1.5,1.0,1.2, -0.2,-0.9,-0.4,1.3, 1.2,1.4,1.2,1.4, 1.3,1.2,1.1,1.0, 0.7,-0.3,-1.0,0.1, 0.7,1.3,1.8,1.5, 0.8,-0.4,-1.4,-1.0, -1.2,-1.1,-1.2,-1.1, -1.3,-1.0,-0.9,0.05, -0.3,-0.6,0.3,1.3, 1.45,-0.3,-1.2,-0.8, -0.9,-0.9,-0.8,-0.9, -0.8,-0.7,-0.4,-0.15, -0.6,-1.0,-0.9,-0.8, -0.9,-0.8,-0.7,-0.9, -0.8,-0.9,-0.7,-0.8, -0.8];
const c46esc = [-0.5,-1.3,-0.8,-1.5, -0.9,-1.3,1.0,1.7, 1.6,1.2,-0.5,-1.2, -1.4,-1.0,-1.3,-0.8, 1.0,0.4,-0.3,-1.2, -1.1,-0.7,0.35,-0.2, 0.1,-0.4,0.5,1.2, 1.4,0.0,-0.7,-0.2, -0.3,0.7,1.0,-0.6, -1.1,-0.4,0.9,1.9, 1.7,1.6,0.9,0.5, -1.3,-0.9,-0.5,-0.7, -1.0,-1.3,0.5,1.3, 0.9,0.3,0.6,-0.5, 0.0,-0.8,-0.6,-0.9, -0.5,-0.8,-0.4,-0.9, -0.6,-0.7,-0.5,-0.8, -0.6,-0.9,-0.5,0.5, 0.6,0.3,-0.7,-1.1, -0.8,-0.6,-0.7,-1.0, -0.8,-0.9,-0.7,-0.1, 0.3,-0.8,-1.0,-0.6, -0.8,-0.5,-0.7,-0.4, -0.6,-0.8,-0.5,-0.7, -0.4,-0.6,-0.5,-0.7, -0.4,-0.6,-0.3,-0.7, -0.5,-0.4,-0.6,-0.3, -0.7,-0.6,-0.2,1.0, 0.4,-0.8,-1.0,-0.6, -0.8,-0.6,-0.9,-2.05, -1.0,-0.3,1.6,1.9, 1.5,1.4,1.1,1.3, 0.0,-0.4,0.0,2.0, 2.5,2.3,2.1,2.6, 2.2,1.5,1.1,0.9, 0.6,-0.2,-0.8,0.0, 0.4,1.1,1.7,1.3, 0.6,-0.5,-1.6,-1.1, -1.3,-0.9,-1.4,-1.0, -1.3,-0.9,-1.0,-0.2, -0.4,-0.8,0.0,1.1, 1.0,-0.6,-1.3,-0.6, -0.8,-1.4,-0.6,-0.8, -0.5,-0.9,-0.5,0.3, -0.6,-1.1,-0.7,-0.5, -0.9,-0.6,-0.5,-0.8, -0.5,-0.7,-0.5,-0.6, -0.7];
const tt2esc = [-1.0,-1.2,-1.3,-1.1, -1.25,-1.0,0.6,1.3, 1.1,0.9,-0.6,-1.1, -1.2,-0.8,-1.15,-1.0, 0.7,0.3,-0.5,-1.1, -1.2,-0.9,-0.6,0.0, -0.3,-0.6,0.3,1.3, 1.4,0.4,-0.8,-0.45, -0.5,0.5,1.2,-0.4, -1.15,-0.7,0.6,1.5, 2.1,1.5,1.0,0.9, -1.0,-0.7,0.3,-0.3, -0.9,-1.2,0.2,1.4, 1.0,0.2,0.8,-0.2, 0.45,-0.7,-0.9,-1.1, -0.9,-1.2,-1.0,-1.3, -0.8,-1.1,-1.2,-0.9, -1.3,-1.1,-0.9,0.8, 1.2,0.6,-0.9,-1.2, -1.1,-0.4,-0.9,-1.3, -1.1,-1.2,-1.0,0.0, 0.4,-1.0,-1.2,-1.3, -1.0,-1.3,-1.1,-0.9, -1.2,-1.0,-1.3,-1.1, -0.9,-1.2,-1.0,-1.1, -0.8,-1.2,-1.0,-1.3, -1.0,-1.2,-0.9,-1.1, -1.3,-1.0,-0.5,0.8, 0.3,-1.0,-1.2,-1.0, -1.1,-1.3,-1.0,-1.7, -1.2,-0.6,1.5,2.1, 1.3,1.6,1.0,1.4, 0.2,-0.7,-0.3,1.9, 2.0,2.1,1.8,2.2, 1.9,1.5,1.3,1.1, 0.8,-0.4,-1.2,0.2, 0.6,1.4,2.0,1.7, 1.0,-0.3,-1.2,-1.4, -1.1,-1.5,-1.2,-1.4, -1.1,-1.5,-0.8,0.0, -0.3,-0.7,0.2,1.1, 0.9,-0.5,-1.2,-0.9, -1.0,-0.8,-1.1,-0.9, -1.0,-0.8,-0.2,0.7, -0.4,-0.9,-1.2,-0.9, -1.1,-1.3,-0.9,-1.1, -0.9,-1.2,-1.0,-0.8, -0.9];

// ================= RENDERING =================
Chart.defaults.font.family = '"Liberation Sans", Arial, sans-serif';
Chart.defaults.color = '#000';
Chart.defaults.animation = false;

const BLACK = '#000';
const minus = v => (v < 0 ? '\u2212' + Math.abs(v) : String(v));

const framePlugin = {
  id: 'frame',
  afterDatasetsDraw(chart) {
    const {ctx, chartArea: a} = chart;
    ctx.save();
    ctx.strokeStyle = BLACK; ctx.lineWidth = 2;
    ctx.strokeRect(a.left, a.top, a.right - a.left, a.bottom - a.top);
    ctx.restore();
  }
};

function axisX(opts) {
  return Object.assign({
    type: 'linear',
    ticks: {font: {size: 19}, color: BLACK, maxRotation: 0, autoSkip: false, includeBounds: false},
    grid: {drawOnChartArea: false, tickLength: 6, tickWidth: 1.5, tickColor: BLACK},
    border: {color: BLACK, width: 2}
  }, opts);
}

// ---------- Panel A ----------
const domainData = [];
domStart.forEach((s, i) => {
  domainData.push({x: s, y: domLevel[i]}, {x: domEnd[i], y: domLevel[i]}, {x: domEnd[i], y: null});
});
const boundaryData = [];
boundaries.forEach(b => { boundaryData.push({x: b, y: -3}, {x: b, y: 3}, {x: b, y: null}); });

function chromosomeChart(id, datasets) {
  return new Chart(document.getElementById(id), {
    type: 'scatter',
    data: {datasets},
    options: {
      responsive: false,
      animation: false,
      layout: {padding: {top: 13, right: 8, left: 0, bottom: 0}},
      plugins: {legend: {display: false}, tooltip: {enabled: false}},
      scales: {
        x: axisX({min: 0, max: 50,
          ticks: {stepSize: 10, font: {size: 19}, color: BLACK, padding: 3, maxRotation: 0, autoSkip: false, includeBounds: false},
          afterFit(s) { s.height = (id === 'cA') ? 55 : 60; s.paddingLeft = 0; s.paddingRight = 0; }}),
        y: {min: -3, max: 3,
          ticks: {stepSize: 1, autoSkip: false, font: {size: 19}, color: BLACK, padding: 4, callback: v => minus(v)},
          grid: {drawOnChartArea: false, tickLength: 9, tickWidth: 1.5, tickColor: BLACK},
          border: {color: BLACK, width: 2},
          afterFit(s) { s.width = 71; s.paddingTop = 0; s.paddingBottom = 0; }}
      }
    },
    plugins: [framePlugin]
  });
}

chromosomeChart('cA', [
  {label: 'Replication domains', data: domainData, showLine: true, spanGaps: false, borderColor: '#e5321b', borderWidth: 5, borderCapStyle: 'butt', pointRadius: 0, order: 0},
  {label: 'Loess-smoothed curve', data: loess.map(p => ({x: p[0], y: p[1]})), showLine: true, borderColor: '#1b2a8f', borderWidth: 3, pointRadius: 0, order: 1},
  {label: 'boundaries', data: boundaryData, showLine: true, spanGaps: false, borderColor: '#222', borderWidth: 1, borderDash: [2, 2], pointRadius: 0, order: 2},
  {label: 'zero', data: [{x: 0, y: 0}, {x: 50, y: 0}], showLine: true, borderColor: '#bdbdbd', borderWidth: 2, pointRadius: 0, order: 3},
  {label: 'Probe log ratio', data: probes.concat(probesCore).map(p => ({x: p[0], y: p[1]})), pointRadius: 1.9, pointStyle: 'circle', backgroundColor: '#b2b2b2', borderWidth: 0, order: 4}
]);

// ---------- Panel C ----------
const toSeries = arr => cPos.map((x, i) => ({x, y: arr[i]}));
chromosomeChart('cC', [
  {label: 'TT2ESC', data: toSeries(tt2esc), showLine: true, borderColor: '#f8ef33', borderWidth: 3, pointRadius: 0, order: 0},
  {label: '46CESC', data: toSeries(c46esc), showLine: true, borderColor: '#80f0ff', borderWidth: 3, pointRadius: 0, order: 1},
  {label: 'D3ESC', data: toSeries(d3esc), showLine: true, borderColor: '#0d1a80', borderWidth: 2.5, pointRadius: 0, order: 2},
  {label: 'zero', data: [{x: 0, y: 0}, {x: 50, y: 0}], showLine: true, borderColor: '#d6d6d6', borderWidth: 1.5, pointRadius: 0, order: 3}
]);

// ---------- Panel B ----------
const HALF = 0.34, CAP = 0.2;
const boxLines = [];
boxPos.forEach((p, i) => {
  boxLines.push(
    {x: p - HALF, y: boxQ1[i]}, {x: p + HALF, y: boxQ1[i]}, {x: p + HALF, y: boxQ3[i]}, {x: p - HALF, y: boxQ3[i]}, {x: p - HALF, y: boxQ1[i]}, {x: p, y: null},
    {x: p - HALF, y: boxMedian[i]}, {x: p + HALF, y: boxMedian[i]}, {x: p, y: null},
    {x: p, y: boxQ3[i]}, {x: p, y: boxMax[i]}, {x: p, y: null},
    {x: p - CAP, y: boxMax[i]}, {x: p + CAP, y: boxMax[i]}, {x: p, y: null},
    {x: p, y: boxQ1[i]}, {x: p, y: boxMin[i]}, {x: p, y: null},
    {x: p - CAP, y: boxMin[i]}, {x: p + CAP, y: boxMin[i]}, {x: p, y: null}
  );
});
new Chart(document.getElementById('cB'), {
  type: 'scatter',
  data: {datasets: [
    {label: 'mean', data: boxPos.map((p, i) => ({x: p + 0.18, y: boxMean[i]})), pointStyle: 'triangle', rotation: -90, pointRadius: 8, backgroundColor: '#e5321b', borderWidth: 0, order: 0},
    {label: 'box', data: boxLines, showLine: true, spanGaps: false, borderColor: BLACK, borderWidth: 2, pointRadius: 0, order: 1},
    {label: 'zero', data: [{x: 0, y: 0}, {x: 3, y: 0}], showLine: true, borderColor: '#aaaaaa', borderWidth: 2, pointRadius: 0, order: 2}
  ]},
  options: {
    responsive: false, animation: false,
    layout: {padding: {top: 13, right: 8, left: 0, bottom: 0}},
    plugins: {legend: {display: false}, tooltip: {enabled: false}},
    scales: {
      x: {type: 'linear', min: 0, max: 3,
        afterBuildTicks(s) { s.ticks = boxPos.map(v => ({value: v})); },
        ticks: {callback: (v, i) => boxGroups[i], minRotation: 90, maxRotation: 90, font: {size: 24}, color: BLACK, padding: 9, autoSkip: false},
        grid: {display: false, drawTicks: false},
        border: {color: BLACK, width: 2},
        afterFit(s) { s.height = 27; s.paddingLeft = 0; s.paddingRight = 0; }},
      y: {min: -0.1, max: 8,
        ticks: {stepSize: 1, includeBounds: false, autoSkip: false, font: {size: 21}, color: BLACK, padding: 3},
        grid: {drawOnChartArea: false, tickLength: 7, tickWidth: 1.5, tickColor: BLACK},
        border: {color: BLACK, width: 2},
        afterFit(s) { s.width = 65; s.paddingTop = 0; s.paddingBottom = 0; }}
    }
  },
  plugins: [framePlugin]
});

// ---------- Panel E ----------
const HR_MAX = 10;
const topAxisPlugin = {
  id: 'topAxis',
  afterDraw(chart) {
    const s = chart.scales.x2; const ctx = chart.ctx;
    const y = chart.chartArea.top - 10;
    ctx.save();
    ctx.strokeStyle = BLACK; ctx.lineWidth = 2;
    ctx.beginPath(); ctx.moveTo(s.getPixelForValue(0) - 1, y); ctx.lineTo(s.getPixelForValue(HR_MAX) + 1, y); ctx.stroke();
    ctx.lineWidth = 1.5;
    s.ticks.forEach(t => {
      const x = s.getPixelForValue(t.value);
      ctx.beginPath(); ctx.moveTo(x, y); ctx.lineTo(x, y + (t.value % 5 === 0 ? 7 : 5)); ctx.stroke();
    });
    ctx.restore();
  }
};
new Chart(document.getElementById('cE'), {
  type: 'scatter',
  data: {datasets: [
    {label: 'regions', data: diffX.map((x, i) => ({x, y: sizeY[i]})), pointStyle: 'rect', pointRadius: 3.3, backgroundColor: '#1b2a8f', borderWidth: 0, order: 0},
    {label: 'fit', data: fitX.map((x, i) => ({x, y: fitY[i]})), showLine: true, borderColor: '#bdbdbd', borderWidth: 2, pointRadius: 0, order: 1}
  ]},
  options: {
    responsive: false, animation: false,
    layout: {padding: {top: 0, right: 9, left: 0, bottom: 0}},
    plugins: {legend: {display: false}, tooltip: {enabled: false}},
    scales: {
      x: axisX({min: 0, max: 3.43,
        ticks: {stepSize: 0.5, includeBounds: false, callback: v => (Number.isInteger(v) ? String(v) : ''), font: {size: 19}, color: BLACK, padding: 1, maxRotation: 0, autoSkip: false},
        grid: {drawOnChartArea: false, tickLength: 5, tickWidth: 1.5, tickColor: BLACK},
        afterFit(s) { s.height = 22; s.paddingLeft = 0; s.paddingRight = 0; }}),
      x2: {type: 'linear', position: 'top', min: 0, max: 11.67,
        ticks: {stepSize: 1, includeBounds: false, callback: v => (v % 5 === 0 ? String(v) : ''), font: {size: 18}, color: BLACK, padding: 22, maxRotation: 0, autoSkip: false},
        afterBuildTicks(s) { s.ticks = s.ticks.filter(t => t.value <= HR_MAX); },
        grid: {display: false, drawTicks: false},
        border: {display: false},
        afterFit(s) { s.height = 47; s.paddingLeft = 0; s.paddingRight = 0; }},
      y: {min: 0, max: 1,
        ticks: {stepSize: 0.1, includeBounds: false, autoSkip: false, font: {size: 19}, color: BLACK, padding: 4,
          callback: v => (Math.abs(v) < 1e-9 ? '0' : Math.abs(v - 0.5) < 1e-9 ? '0.5' : Math.abs(v - 1) < 1e-9 ? '1.0' : '')},
        grid: {drawOnChartArea: false, tickLength: 6, tickWidth: 1.5, tickColor: BLACK},
        border: {color: BLACK, width: 2},
        afterFit(s) { s.width = 40; s.paddingTop = 0; s.paddingBottom = 0; }}
    }
  },
  plugins: [framePlugin, topAxisPlugin]
});
</script>
</body></html>
